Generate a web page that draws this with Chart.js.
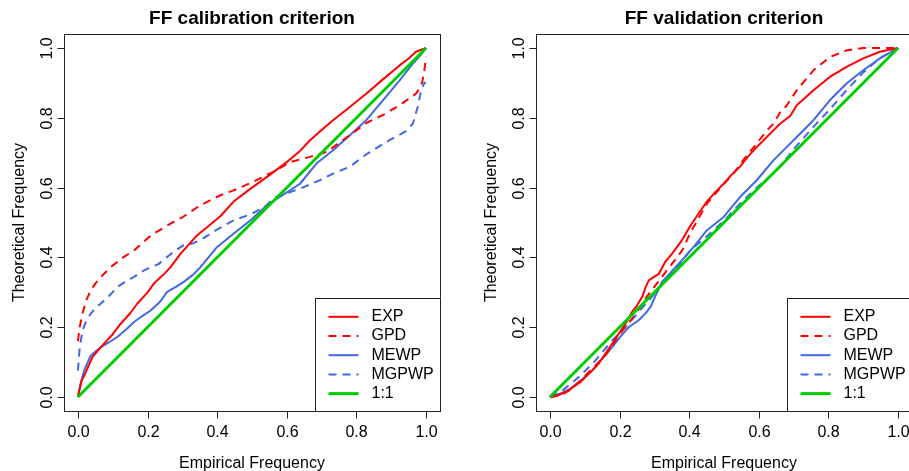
<!DOCTYPE html>
<html>
<head>
<meta charset="utf-8">
<script src="https://cdn.jsdelivr.net/npm/chart.js@4.4.0/dist/chart.umd.min.js"></script>
<style>
html, body { margin: 0; padding: 0; background: #fff; overflow: hidden; }
#wrap { position: relative; width: 909px; height: 471px; overflow: hidden; background: #fff; }
canvas { position: absolute; top: 0; }
</style>
</head>
<body>
<div id="wrap">
  <canvas id="cal" width="455" height="471" style="left:0px"></canvas>
  <canvas id="val" width="470" height="471" style="left:455px"></canvas>
</div>
<script>
// panel titles, axis titles, legend names
const panelTitles = ['FF calibration criterion', 'FF validation criterion'];
const xTitle = 'Empirical Frequency';
const yTitle = 'Theoretical Frequency';
const seriesNames = ['EXP', 'GPD', 'MEWP', 'MGPWP', '1:1'];
const tickValues = [0, 0.2, 0.4, 0.6, 0.8, 1.0];
const tickLabels = ['0.0', '0.2', '0.4', '0.6', '0.8', '1.0'];

// 1:1 line
const oneX = [0, 1];
const oneY = [0, 1];

// calibration panel
const calExpX = [0, 0.01, 0.023, 0.042, 0.075, 0.1, 0.123, 0.15, 0.171, 0.2, 0.218, 0.25, 0.266, 0.295, 0.342, 0.375, 0.409, 0.447, 0.5, 0.542, 0.6, 0.638, 0.666, 0.7, 0.733, 0.78, 0.828, 0.87, 0.924, 0.95, 0.971, 1];
const calExpY = [0, 0.045, 0.072, 0.115, 0.153, 0.18, 0.21, 0.24, 0.268, 0.3, 0.325, 0.355, 0.372, 0.411, 0.463, 0.49, 0.518, 0.56, 0.6, 0.63, 0.673, 0.705, 0.735, 0.765, 0.793, 0.83, 0.869, 0.905, 0.95, 0.97, 0.989, 1];

const calGpdX = [0, 0.005, 0.013, 0.025, 0.037, 0.05, 0.066, 0.094, 0.13, 0.161, 0.2, 0.218, 0.266, 0.3, 0.351, 0.409, 0.447, 0.5, 0.561, 0.609, 0.666, 0.714, 0.781, 0.828, 0.88, 0.924, 0.971, 0.985, 0.99, 0.995, 1];
const calGpdY = [0.16, 0.2, 0.239, 0.28, 0.306, 0.325, 0.344, 0.372, 0.4, 0.42, 0.455, 0.468, 0.497, 0.515, 0.549, 0.578, 0.592, 0.615, 0.645, 0.673, 0.688, 0.702, 0.75, 0.785, 0.81, 0.836, 0.869, 0.89, 0.907, 0.936, 0.975];

const calMewpX = [0, 0.008, 0.018, 0.037, 0.066, 0.09, 0.113, 0.14, 0.161, 0.185, 0.209, 0.235, 0.256, 0.28, 0.304, 0.33, 0.352, 0.375, 0.4, 0.447, 0.5, 0.542, 0.59, 0.638, 0.685, 0.733, 0.781, 0.828, 0.876, 0.924, 0.962, 0.985, 1];
const calMewpY = [0, 0.04, 0.076, 0.119, 0.143, 0.157, 0.172, 0.195, 0.215, 0.232, 0.248, 0.272, 0.301, 0.315, 0.33, 0.35, 0.372, 0.4, 0.43, 0.468, 0.51, 0.549, 0.58, 0.611, 0.669, 0.707, 0.75, 0.793, 0.85, 0.907, 0.955, 0.98, 1];

const calMgpwpX = [0, 0.005, 0.013, 0.025, 0.037, 0.05, 0.066, 0.09, 0.113, 0.135, 0.161, 0.185, 0.209, 0.23, 0.256, 0.28, 0.304, 0.33, 0.352, 0.4, 0.447, 0.5, 0.542, 0.561, 0.638, 0.695, 0.733, 0.781, 0.828, 0.895, 0.94, 0.962, 0.976, 0.986, 0.995, 1];
const calMgpwpY = [0.076, 0.14, 0.191, 0.22, 0.239, 0.255, 0.268, 0.29, 0.315, 0.33, 0.344, 0.36, 0.372, 0.38, 0.401, 0.42, 0.435, 0.44, 0.45, 0.48, 0.506, 0.525, 0.549, 0.57, 0.597, 0.621, 0.64, 0.66, 0.695, 0.736, 0.76, 0.783, 0.831, 0.879, 0.9, 0.9];

// validation panel
const valExpX = [0, 0.02, 0.035, 0.055, 0.074, 0.09, 0.102, 0.12, 0.14, 0.16, 0.179, 0.2, 0.217, 0.236, 0.25, 0.265, 0.275, 0.284, 0.3, 0.312, 0.331, 0.351, 0.379, 0.403, 0.43, 0.451, 0.475, 0.499, 0.52, 0.546, 0.57, 0.594, 0.62, 0.642, 0.661, 0.69, 0.709, 0.757, 0.804, 0.852, 0.9, 0.948, 1];
const valExpY = [0, 0.004, 0.01, 0.02, 0.034, 0.045, 0.057, 0.075, 0.096, 0.125, 0.153, 0.185, 0.21, 0.244, 0.262, 0.287, 0.315, 0.334, 0.345, 0.352, 0.387, 0.411, 0.449, 0.49, 0.53, 0.56, 0.587, 0.611, 0.635, 0.66, 0.69, 0.716, 0.742, 0.764, 0.783, 0.805, 0.836, 0.879, 0.917, 0.946, 0.97, 0.989, 1];

const valGpdX = [0, 0.02, 0.04, 0.06, 0.08, 0.1, 0.12, 0.14, 0.16, 0.179, 0.2, 0.22, 0.24, 0.26, 0.28, 0.303, 0.33, 0.351, 0.38, 0.403, 0.451, 0.49, 0.527, 0.56, 0.594, 0.62, 0.642, 0.661, 0.68, 0.709, 0.757, 0.804, 0.852, 0.9, 1];
const valGpdY = [0, 0.003, 0.01, 0.022, 0.04, 0.06, 0.08, 0.1, 0.12, 0.148, 0.18, 0.205, 0.23, 0.258, 0.29, 0.32, 0.355, 0.382, 0.42, 0.47, 0.554, 0.6, 0.64, 0.685, 0.726, 0.76, 0.783, 0.815, 0.835, 0.879, 0.936, 0.974, 0.993, 1, 1];

const valMewpX = [0, 0.035, 0.06, 0.083, 0.11, 0.131, 0.155, 0.179, 0.2, 0.226, 0.255, 0.274, 0.29, 0.303, 0.322, 0.341, 0.37, 0.384, 0.417, 0.451, 0.499, 0.546, 0.594, 0.642, 0.69, 0.709, 0.757, 0.804, 0.852, 0.9, 0.948, 1];
const valMewpY = [0, 0.012, 0.025, 0.043, 0.065, 0.086, 0.115, 0.143, 0.17, 0.2, 0.22, 0.239, 0.26, 0.29, 0.33, 0.35, 0.382, 0.397, 0.435, 0.478, 0.516, 0.573, 0.621, 0.678, 0.726, 0.745, 0.793, 0.85, 0.898, 0.936, 0.97, 1];

const valMgpwpX = [0, 0.04, 0.083, 0.131, 0.179, 0.226, 0.26, 0.293, 0.331, 0.36, 0.403, 0.45, 0.5, 0.546, 0.6, 0.661, 0.7, 0.757, 0.8, 0.852, 0.9, 0.95, 1];
const valMgpwpY = [0, 0.022, 0.057, 0.105, 0.162, 0.21, 0.25, 0.287, 0.334, 0.365, 0.42, 0.46, 0.505, 0.554, 0.605, 0.659, 0.71, 0.774, 0.82, 0.879, 0.93, 0.972, 1];

const RED = '#ff0000', BLUE = '#4169e1', GREEN = '#00cd00';
const FONT = "'Liberation Sans', Arial, Helvetica, sans-serif";
const dashed = [8, 6];

function pts(xs, ys) {
    return xs.map((x, i) => ({ x: x, y: ys[i] }));
}

// legend styles, same order as seriesNames
const legendStyle = [
    { color: RED, dash: [], width: 2 },
    { color: RED, dash: dashed, width: 2 },
    { color: BLUE, dash: [], width: 2 },
    { color: BLUE, dash: dashed, width: 2 },
    { color: GREEN, dash: [], width: 3 }
];

// draws the R style box, ticks, labels, titles and legend
const frame = {
    id: 'frame',
    afterDraw(chart) {
        const ctx = chart.ctx;
        const a = chart.chartArea;
        const sx = chart.scales.x, sy = chart.scales.y;
        const title = chart.options.plugins.frame.title;
        ctx.save();
        ctx.strokeStyle = '#222';
        ctx.lineWidth = 1;
        ctx.setLineDash([]);
        const L = Math.round(a.left) + 0.5, T = Math.round(a.top) + 0.5;
        const R = Math.round(a.right) + 0.5, B = Math.round(a.bottom) + 0.5;
        ctx.strokeRect(L, T, R - L, B - T);

        ctx.fillStyle = '#000';
        ctx.font = '16px ' + FONT;
        ctx.textAlign = 'center';
        ctx.textBaseline = 'middle';
        for (let i = 0; i < tickValues.length; i++) {
            const px = Math.round(sx.getPixelForValue(tickValues[i])) + 0.5;
            ctx.beginPath();
            ctx.moveTo(px, B);
            ctx.lineTo(px, B + 7);
            ctx.stroke();
            ctx.fillText(tickLabels[i], px, B + 21);

            const py = Math.round(sy.getPixelForValue(tickValues[i])) + 0.5;
            ctx.beginPath();
            ctx.moveTo(L - 7, py);
            ctx.lineTo(L, py);
            ctx.stroke();
            ctx.save();
            ctx.translate(L - 17, py);
            ctx.rotate(-Math.PI / 2);
            ctx.fillText(tickLabels[i], 0, 0);
            ctx.restore();
        }

        // axis titles
        const cx = (a.left + a.right) / 2;
        ctx.textBaseline = 'alphabetic';
        ctx.fillText(xTitle, cx, B + 56);
        ctx.save();
        ctx.translate(L - 45, (a.top + a.bottom) / 2);
        ctx.rotate(-Math.PI / 2);
        ctx.textBaseline = 'middle';
        ctx.fillText(yTitle, 0, 0);
        ctx.restore();

        // main title
        ctx.font = 'bold 19px ' + FONT;
        ctx.fillText(title, cx, T - 11);

        // legend, bottom right
        const lx = R - 126, ly = B - 114;
        ctx.fillStyle = '#fff';
        ctx.fillRect(lx, ly, R - lx, B - ly);
        ctx.strokeStyle = '#222';
        ctx.strokeRect(Math.round(lx) + 0.5, Math.round(ly) + 0.5, R - Math.round(lx) - 0.5, B - Math.round(ly) - 0.5);
        ctx.font = '16px ' + FONT;
        ctx.textAlign = 'left';
        ctx.textBaseline = 'middle';
        for (let i = 0; i < seriesNames.length; i++) {
            const y = B - 94.7 + i * 19.2;
            const st = legendStyle[i];
            ctx.strokeStyle = st.color;
            ctx.lineWidth = st.width;
            ctx.setLineDash(st.dash);
            ctx.beginPath();
            ctx.moveTo(lx + 14, y);
            ctx.lineTo(lx + 44, y);
            ctx.stroke();
            ctx.fillStyle = '#000';
            ctx.fillText(seriesNames[i], lx + 57, y);
        }
        ctx.restore();
    }
};

function makeChart(id, title, series, pad) {
    const ds = [
        { data: pts(oneX, oneY), borderColor: GREEN, borderWidth: 3 },
        { data: pts(series[0][0], series[0][1]), borderColor: RED, borderWidth: 2 },
        { data: pts(series[1][0], series[1][1]), borderColor: RED, borderWidth: 2, borderDash: dashed },
        { data: pts(series[2][0], series[2][1]), borderColor: BLUE, borderWidth: 2 },
        { data: pts(series[3][0], series[3][1]), borderColor: BLUE, borderWidth: 2, borderDash: dashed }
    ];
    ds.forEach(d => { d.pointRadius = 0; d.fill = false; d.tension = 0; d.borderJoinStyle = 'round'; });
    return new Chart(document.getElementById(id), {
        type: 'line',
        data: { datasets: ds },
        options: {
            responsive: false,
            animation: false,
            devicePixelRatio: 1,
            layout: { padding: pad },
            scales: {
                x: { type: 'linear', min: -0.04, max: 1.04, display: false },
                y: { type: 'linear', min: -0.04, max: 1.04, display: false }
            },
            plugins: {
                legend: { display: false },
                tooltip: { enabled: false },
                frame: { title: title }
            }
        },
        plugins: [frame]
    });
}

makeChart('cal', panelTitles[0], [
    [calExpX, calExpY], [calGpdX, calGpdY], [calMewpX, calMewpY], [calMgpwpX, calMgpwpY]
], { left: 64, top: 34, right: 15, bottom: 60 });

makeChart('val', panelTitles[1], [
    [valExpX, valExpY], [valGpdX, valGpdY], [valMewpX, valMewpY], [valMgpwpX, valMgpwpY]
], { left: 81, top: 34, right: 13, bottom: 60 });
</script>
</body>
</html>
